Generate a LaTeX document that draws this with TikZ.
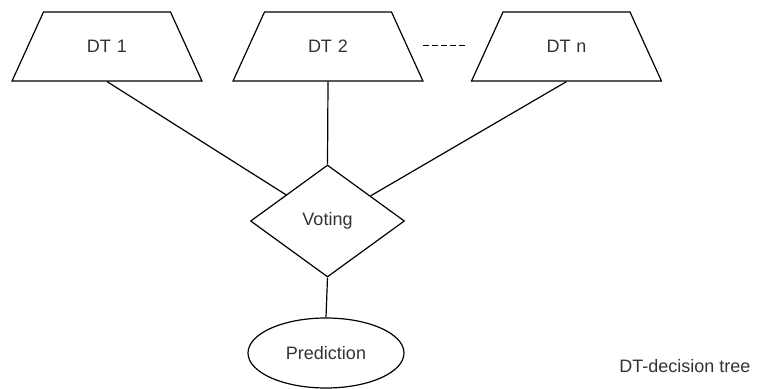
\documentclass[tikz,border=0pt]{standalone}
\usepackage{fontspec}
\setmainfont{Liberation Sans}
\usetikzlibrary{shapes.geometric}

\tikzset{
  treebox/.style={draw, trapezium, trapezium angle=65.5, inner sep=0pt,
    text width=95.25pt, align=center, text height=30.7pt, text depth=21.05pt},
  votebox/.style={draw, diamond, minimum width=115.5pt, minimum height=84pt, inner sep=0pt},
  predbox/.style={draw, ellipse, minimum width=117pt, minimum height=52.5pt, inner sep=0pt},
  label/.style={text=black!80, font=\fontsize{13.5}{16}\selectfont},
}

\begin{document}
\begin{tikzpicture}[x=0.75pt, y=-0.75pt, line width=0.9pt, every node/.style={label}]
            \def \xone     {107}
            \def \xtwo     {328}
            \def \xn       {566.5}
            \def \xmid     {327.5}
            \def \ytree    {46.5}
            \def \yvote    {221}
            \def \ypred    {353}

            \useasboundingbox (0,0) rectangle (771,389);
% trees
            \node [treebox] (dt1) at (\xone, \ytree) {DT 1};
            \node [treebox] (dt2) at (\xtwo, \ytree) {DT 2};
            \node [treebox] (dtn) at (\xn, \ytree) {DT n};
            \coordinate (dots west) at (423, 45);
            \coordinate (dots east) at (467, 45);
            \draw [dash pattern=on 4.5pt off 2.25pt, line width=0.75pt] (dots west) -- (dots east);

% vote and result
            \node [votebox] (vote) at (\xmid, \yvote) {Voting};
            \node [predbox] (pred) at (326, \ypred) {Prediction};
            \node (note) at (685, 366) {DT-decision tree};

            \draw (dt1.south) -- (vote);
            \draw (dt2.south) -- (vote.north);
            \draw (dtn.south) -- (vote);
            \draw (vote.south) -- (pred.north);
\end{tikzpicture}
\end{document}
